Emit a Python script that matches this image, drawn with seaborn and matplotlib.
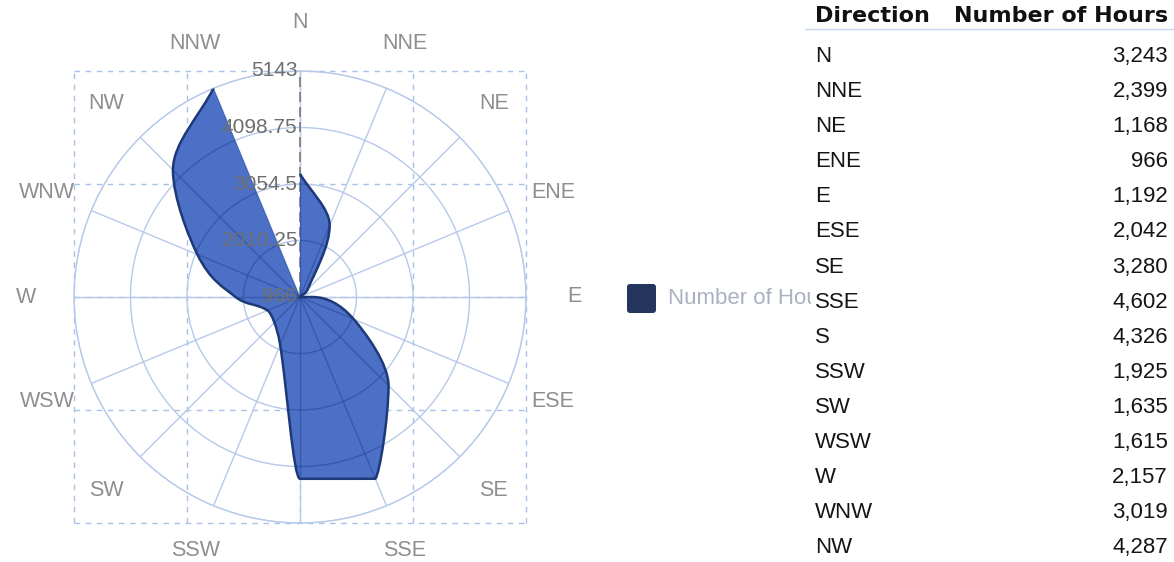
import numpy as np
import matplotlib
matplotlib.use("Agg")
import matplotlib.pyplot as plt
import seaborn as sns
from matplotlib.path import Path
from matplotlib.patches import PathPatch, FancyBboxPatch
from matplotlib.lines import Line2D
from matplotlib.transforms import ScaledTranslation

# wind rose data (hours per direction); NNW row is cut off in the table
directions = ["N", "NNE", "NE", "ENE", "E", "ESE", "SE", "SSE",
              "S", "SSW", "SW", "WSW", "W", "WNW", "NW", "NNW"]
hours = [3243, 2399, 1168, 966, 1192, 2042, 3280, 4602,
         4326, 1925, 1635, 1615, 2157, 3019, 4287, 5143]
table_rows = 15

series_name = "Number of Hours"
fill_color = "#4b70c6"
edge_color = "#1d3977"
legend_color = "#24365e"
grid_color = "#b7c9ea"
inner_grid = "#2c4a9a"

sns.set_theme(style="white")
plt.rcParams["font.family"] = ["Liberation Sans", "DejaVu Sans"]

W, H = 1174, 562
fig = plt.figure(figsize=(W / 100, H / 100), dpi=100)
fig.patch.set_facecolor("white")

# plot area: centre and radius in pixels
cx, cy, R = 300, 265, 226
rect = [(cx - R) / W, (cy - R) / H, 2 * R / W, 2 * R / H]

# dashed cartesian grid behind the polar chart
bg = fig.add_axes(rect, zorder=0)
bg.set_xlim(-1, 1)
bg.set_ylim(-1, 1)
bg.set_xticks([-1, -0.5, 0, 0.5, 1])
bg.set_yticks([-1, -0.5, 0, 0.5, 1])
bg.tick_params(length=0, labelbottom=False, labelleft=False)
bg.grid(True, color="#a9c0e8", lw=1, ls=(0, (4, 4)))
for ln in bg.get_xgridlines() + bg.get_ygridlines():
    ln.set_clip_on(False)
for s in bg.spines.values():
    s.set_visible(False)
bg.patch.set_alpha(0)

# polar chart
rmin, rmax = min(hours), max(hours)
rticks = np.linspace(rmin, rmax, 5)
theta = np.deg2rad(np.arange(len(directions)) * 360 / len(directions))

ax = fig.add_axes(rect, projection="polar", zorder=1)
ax.patch.set_alpha(0)
ax.set_theta_zero_location("N")
ax.set_theta_direction(-1)
ax.set_rlim(rmin, rmax)
ax.set_xticks(theta)
ax.set_xticklabels([])
ax.set_yticks(rticks[1:])
ax.set_yticklabels([])
ax.grid(True, color=grid_color, lw=1)
ax.spines["polar"].set_color(grid_color)
ax.spines["polar"].set_linewidth(1)
ax.set_axisbelow(True)

# radial axis line along N
ax.plot([0, 0], [rmin, rmax], color="#7a7a7a", lw=1.2, ls=(0, (6, 3)), zorder=1.5)

# ---- smooth outline: monotone-aware bezier curve in pixel space ----
WEIGHT = 0.333
DEV = 0.01


def line_fn(p1, p2):
    with np.errstate(divide="ignore", invalid="ignore"):
        a = np.float64(p2[1] - p1[1]) / np.float64(p2[0] - p1[0])
        b = p1[1] - a * p1[0]
    return b, a


def calc(fn, x):
    with np.errstate(invalid="ignore"):
        return fn[0] + fn[1] * x


def tangent(p0, p1, xf, yf):
    dx = p1[xf] - p0[xf]
    return 0.0 if dx == 0 else (p1[yf] - p0[yf]) / dx


def mono(p0, p1, p2, f):
    return (p2[f] > p1[f] > p0[f]) or (p2[f] < p1[f] < p0[f])


def is_line(p0, p1, p2):
    y2 = calc(line_fn(p0, p1), p2[0])
    return (p0[0] == p1[0] == p2[0]) or round(float(y2), 1) == round(float(p2[1]), 1)


def invert_axis(p0, p1, p2):
    if p0[0] == p1[0]:
        return True
    if p1[0] == p2[0]:
        return (p1[1] < p2[1] and p0[1] <= p1[1]) or (p2[1] < p1[1] and p1[1] <= p0[1])
    y2 = calc(line_fn(p0, p1), p2[0])
    return (not (p0[1] <= p1[1] and p2[1] <= y2)) and (not (p1[1] <= p0[1] and p2[1] >= y2))


def make_pt(xv, yv, xf, yf):
    p = [0.0, 0.0]
    p[xf] = xv
    p[yf] = yv
    return p


def first_cp(t, p0, p3, xf, yf):
    d = (p3[xf] - p0[xf]) * WEIGHT
    return make_pt(p0[xf] + d, p0[yf] + d * t, xf, yf)


def second_cp(t, p0, p3, xf, yf):
    d = (p3[xf] - p0[xf]) * WEIGHT
    return make_pt(p3[xf] - d, p3[yf] - d * t, xf, yf)


def restrict(p1, p2, cp, t):
    if p1[1] < p2[1]:
        if p2[1] < cp[1]:
            cp[0] = p1[0] + (p2[1] - p1[1]) / t
            cp[1] = p2[1]
        elif cp[1] < p1[1]:
            cp[0] = p2[0] - (p2[1] - p1[1]) / t
            cp[1] = p1[1]
    else:
        if cp[1] < p2[1]:
            cp[0] = p1[0] - (p1[1] - p2[1]) / t
            cp[1] = p2[1]
        elif p1[1] < cp[1]:
            cp[0] = p2[0] + (p1[1] - p2[1]) / t
            cp[1] = p1[1]


def control_points(p0, p1, p2):
    xf, yf = 0, 1
    do_restrict = False
    switch = False
    if is_line(p0, p1, p2):
        t = tangent(p0, p1, 0, 1)
    else:
        m = {0: mono(p0, p1, p2, 0), 1: mono(p0, p1, p2, 1)}
        if m[0] and m[1]:
            t = tangent(p0, p2, 0, 1)
            do_restrict = True
        else:
            if invert_axis(p0, p1, p2):
                xf, yf = 1, 0
            if m[xf]:
                t = 0.0
            else:
                if (p2[yf] < p0[yf] <= p1[yf]) or (p0[yf] < p2[yf] and p1[yf] <= p0[yf]):
                    sign = np.sign((p2[yf] - p0[yf]) * (p1[xf] - p0[xf]))
                else:
                    sign = -np.sign((p2[xf] - p0[xf]) * (p1[yf] - p0[yf]))
                t = DEV * sign
                switch = True
    second = second_cp(t, p0, p1, xf, yf)
    if switch:
        xf, yf = yf, xf
    first = first_cp(t, p1, p2, xf, yf)
    if do_restrict:
        restrict(p0, p1, second, t)
        restrict(p1, p2, first, t)
    return second, first


def smooth_curve(pts):
    n = len(pts)
    cp0 = first_cp(tangent(pts[0], pts[1], 0, 1), pts[0], pts[1], 0, 1)
    c_in, c_out = [None], []
    for i in range(n - 2):
        second, first = control_points(pts[i], pts[i + 1], pts[i + 2])
        c_out.append(cp0)
        cp0 = first
        c_in.append(second)
    c_out.append(cp0)
    c_in.append(second_cp(tangent(pts[n - 2], pts[n - 1], 0, 1), pts[n - 2], pts[n - 1], 0, 1))
    return c_in, c_out


# data points in pixels (y pointing down like a screen)
disp = ax.transData.transform(np.column_stack([theta, hours]))
pts = [[float(x), float(H - y)] for x, y in disp]
center = ax.transData.transform([(0, rmin)])[0]

c_in, c_out = smooth_curve(pts)
curve_v = [pts[0]]
curve_c = [Path.MOVETO]
for i in range(1, len(pts)):
    curve_v += [c_out[i - 1], c_in[i], pts[i]]
    curve_c += [Path.CURVE4] * 3
curve_v = np.array(curve_v)
curve_v[:, 1] = H - curve_v[:, 1]

to_axes = ax.transAxes.inverted().transform
fill_v = np.vstack([center, curve_v, center, center])
fill_c = [Path.MOVETO, Path.LINETO] + curve_c[1:] + [Path.LINETO, Path.CLOSEPOLY]

area = PathPatch(Path(to_axes(fill_v), fill_c), transform=ax.transAxes,
                 facecolor=fill_color, edgecolor="none", zorder=2)
ax.add_patch(area)

# grid seen through the filled area
ring_t = np.linspace(0, 2 * np.pi, 721)
for v in rticks[1:]:
    ln, = ax.plot(ring_t, np.full_like(ring_t, v), color=inner_grid, lw=1, alpha=0.6, zorder=2.5)
    ln.set_clip_path(area)
for t in theta:
    ln, = ax.plot([t, t], [rmin, rmax], color=inner_grid, lw=1, alpha=0.6, zorder=2.5)
    ln.set_clip_path(area)

outline = PathPatch(Path(to_axes(curve_v), curve_c), transform=ax.transAxes,
                    facecolor="none", edgecolor=edge_color, lw=1.8, zorder=3)
ax.add_patch(outline)

# direction labels around the rose (those that fit on the canvas)
r_lab = rmax + (rmax - rmin) * 48 / R
for t, d in zip(theta, directions):
    if ax.transData.transform((t, r_lab))[1] < 8:
        continue
    ax.text(t, r_lab, d, ha="center", va="center", fontsize=15.5,
            color="#8e8e8e", clip_on=False)

# radial value labels along the N axis
shift = ScaledTranslation(-2 / 72, 0, fig.dpi_scale_trans)
for v in rticks:
    ax.text(0, v, f"{v:g}", ha="right", va="center", fontsize=15,
            color="#6e6e6e", transform=ax.transData + shift, zorder=4)

# legend (label is clipped by the table, as in the original)
lx0, lx1, ly0, ly1 = 620, 811, 268, 328
leg_ax = fig.add_axes([lx0 / W, 1 - ly1 / H, (lx1 - lx0) / W, (ly1 - ly0) / H])
leg_ax.set_xlim(lx0, lx1)
leg_ax.set_ylim(ly1, ly0)
leg_ax.axis("off")
leg_ax.add_patch(FancyBboxPatch((627, 284), 29, 29, boxstyle="round,pad=0,rounding_size=3",
                                facecolor=legend_color, edgecolor="none"))
leg_ax.text(668, 299, series_name, fontsize=16, color="#a9b1c1", va="center", clip_on=True)

# data table on the right
x_left, x_right = 815 / W, 1168 / W
head_kw = dict(fontsize=16, fontweight="heavy", family=["DejaVu Sans"], color="#111111", va="baseline")
fig.text(x_left, 1 - 22 / H, "Direction", **head_kw)
fig.text(x_right, 1 - 22 / H, series_name, ha="right", **head_kw)
fig.add_artist(Line2D([805 / W, 1.0], [1 - 29 / H, 1 - 29 / H], color="#c8d6ef", lw=1))

for i, (d, v) in enumerate(zip(directions[:table_rows], hours[:table_rows])):
    y = 1 - (62 + i * 35.1) / H
    fig.text(x_left, y, d, fontsize=16, color="#151515", va="baseline")
    fig.text(x_right, y, f"{v:,}", fontsize=16, color="#151515", va="baseline", ha="right")

fig.savefig("out.png", dpi=100)
